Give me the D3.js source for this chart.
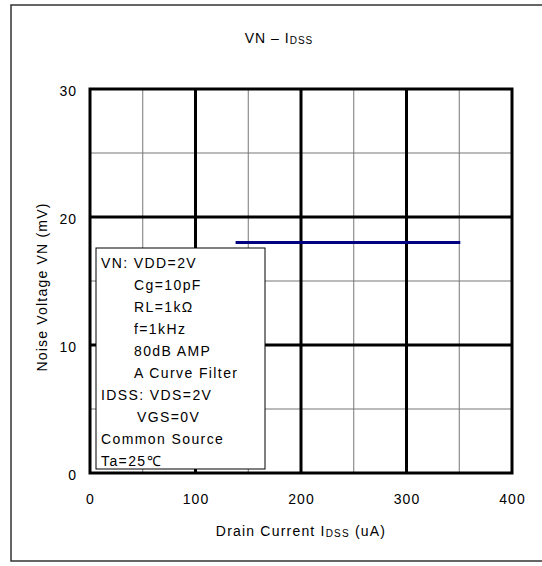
<!DOCTYPE html>
<html><head><meta charset="utf-8">
<script src="https://cdn.jsdelivr.net/npm/d3@7/dist/d3.min.js"></script>
<style>
body{margin:0;background:#fff;}
text{font-family:"Liberation Sans",Arial,sans-serif;fill:#000;}
</style></head>
<body><svg id="c" width="542" height="566"></svg>
<script>
// data
const seriesX = [138, 351];          // Drain current IDSS (uA)
const seriesY = [18, 18];            // Noise voltage VN (mV)
const xTicks = [0, 100, 200, 300, 400];
const yTicks = [0, 10, 20, 30];
const xMinor = [50, 150, 250, 350];
const yMinor = [5, 15, 25];
const legendLines = ["VN: VDD=2V","Cg=10pF","RL=1kΩ","f=1kHz","80dB AMP","A Curve Filter","IDSS: VDS=2V","VGS=0V","Common Source","Ta=25℃"];
const legendIndent = [0,1,1,1,1,1,0,2,0,0];

const svg = d3.select("#c");
const L = 90, R = 512, T = 89, B = 473;
const x = d3.scaleLinear().domain([0,400]).range([L,R]);
const y = d3.scaleLinear().domain([0,30]).range([B,T]);

// outer frame
svg.append("rect").attr("x",11).attr("y",5).attr("width",560).attr("height",556)
  .attr("fill","none").attr("stroke","#333").attr("stroke-width",1.5);

// title
const title = svg.append("text").attr("x",279).attr("y",43).attr("text-anchor","middle").attr("font-size",14).attr("letter-spacing",1);
title.append("tspan").text("VN – I");
title.append("tspan").attr("font-size",10).attr("dy",1).text("DSS");

// minor grid
svg.append("g").selectAll("line").data(xMinor).join("line")
  .attr("x1",d=>x(d)).attr("x2",d=>x(d)).attr("y1",T).attr("y2",B)
  .attr("stroke","#777").attr("stroke-width",1);
svg.append("g").selectAll("line").data(yMinor).join("line")
  .attr("y1",d=>y(d)).attr("y2",d=>y(d)).attr("x1",L).attr("x2",R)
  .attr("stroke","#777").attr("stroke-width",1);
// major grid
svg.append("g").selectAll("line").data(xTicks.slice(1,-1)).join("line")
  .attr("x1",d=>x(d)).attr("x2",d=>x(d)).attr("y1",T).attr("y2",B)
  .attr("stroke","#000").attr("stroke-width",3);
svg.append("g").selectAll("line").data(yTicks.slice(1,-1)).join("line")
  .attr("y1",d=>y(d)).attr("y2",d=>y(d)).attr("x1",L).attr("x2",R)
  .attr("stroke","#000").attr("stroke-width",3);
// plot border
svg.append("rect").attr("x",L).attr("y",T).attr("width",R-L).attr("height",B-T)
  .attr("fill","none").attr("stroke","#000").attr("stroke-width",3);

// axes labels via d3 axes (no lines)
const xa = svg.append("g").attr("transform",`translate(0,${B})`)
  .call(d3.axisBottom(x).tickValues(xTicks).tickSize(0).tickPadding(31).tickFormat(d3.format("d")));
xa.select(".domain").remove();
xa.selectAll("text").attr("font-size",14).attr("font-family","Liberation Sans, Arial, sans-serif").attr("fill","#000").attr("letter-spacing",1).attr("dy","0");
const ya = svg.append("g").attr("transform",`translate(${L},0)`)
  .call(d3.axisLeft(y).tickValues(yTicks).tickSize(0).tickPadding(13).tickFormat(d3.format("d")));
ya.select(".domain").remove();
ya.selectAll("text").attr("font-size",14).attr("font-family","Liberation Sans, Arial, sans-serif").attr("fill","#000").attr("letter-spacing",1).attr("dy","0.45em");

// axis titles
const xt = svg.append("text").attr("x",301).attr("y",536).attr("text-anchor","middle").attr("font-size",14).attr("letter-spacing",1.2);
xt.append("tspan").text("Drain Current  I");
xt.append("tspan").attr("font-size",10).attr("dy",1).text("DSS");
xt.append("tspan").attr("dy",-1).text(" (uA)");
svg.append("text").attr("transform","translate(47,287) rotate(-90)").attr("text-anchor","middle")
  .attr("font-size",14).attr("letter-spacing",1.2).text("Noise Voltage  VN (mV)");

// series line
svg.append("path").datum(seriesX.map((d,i)=>[d,seriesY[i]]))
  .attr("d",d3.line().x(d=>x(d[0])).y(d=>y(d[1])))
  .attr("fill","none").attr("stroke","#000080").attr("stroke-width",3);

// legend box
svg.append("rect").attr("x",96).attr("y",248).attr("width",169).attr("height",221)
  .attr("fill","#fff").attr("stroke","#000").attr("stroke-width",1);
const indentPx = [101, 134, 137];
svg.append("g").selectAll("text").data(legendLines).join("text")
  .attr("x",(d,i)=>indentPx[legendIndent[i]]).attr("y",(d,i)=>268+i*22)
  .attr("font-size",14).attr("letter-spacing",1.4).text(d=>d);
</script></body></html>
